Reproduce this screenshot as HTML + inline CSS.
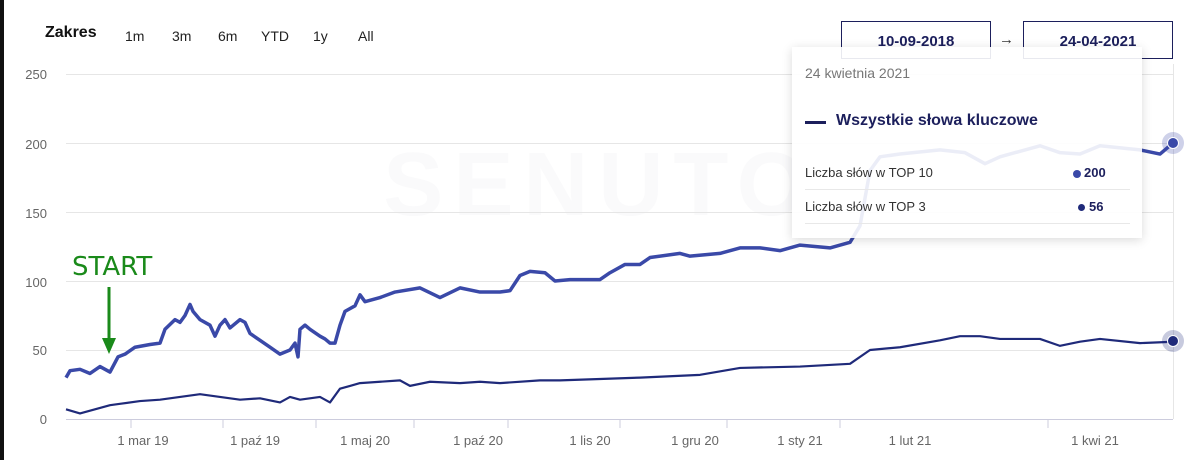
<!DOCTYPE html>
<html><head><meta charset="utf-8"><style>
body{margin:0;width:1201px;height:460px;background:#fff;overflow:hidden;font-family:"Liberation Sans",sans-serif;position:relative}
.t{position:absolute;white-space:nowrap}
</style></head><body>
<div style="position:absolute;left:0;top:0;width:4px;height:460px;background:#111"></div>
<svg width="1201" height="460" style="position:absolute;left:0;top:0">
<text x="600" y="215" font-size="90" font-weight="bold" fill="#fafafb" text-anchor="middle" letter-spacing="10">SENUTO</text>
<g stroke="#e6e6e6" stroke-width="1">
<line x1="66" x2="1173" y1="74.5" y2="74.5"/><line x1="66" x2="1173" y1="143.5" y2="143.5"/>
<line x1="66" x2="1173" y1="212.5" y2="212.5"/><line x1="66" x2="1173" y1="281.5" y2="281.5"/>
<line x1="66" x2="1173" y1="350.5" y2="350.5"/>
<line x1="1173.5" x2="1173.5" y1="64" y2="419"/>
</g>
<line x1="66" x2="1173" y1="419.5" y2="419.5" stroke="#ccd" />
<g stroke="#ccd"><line x1="131" x2="131" y1="420" y2="428"/><line x1="223" x2="223" y1="420" y2="428"/><line x1="316" x2="316" y1="420" y2="428"/><line x1="414" x2="414" y1="420" y2="428"/><line x1="508" x2="508" y1="420" y2="428"/><line x1="620" x2="620" y1="420" y2="428"/><line x1="727" x2="727" y1="420" y2="428"/><line x1="840" x2="840" y1="420" y2="428"/><line x1="1048" x2="1048" y1="420" y2="428"/></g>
<g font-size="13" fill="#666" text-anchor="end"><text x="47" y="79">250</text><text x="47" y="149">200</text><text x="47" y="218">150</text><text x="47" y="287">100</text><text x="47" y="355">50</text><text x="47" y="424">0</text></g>
<g font-size="13" fill="#666" text-anchor="middle"><text x="143" y="445">1 mar 19</text><text x="255" y="445">1 paź 19</text><text x="365" y="445">1 maj 20</text><text x="478" y="445">1 paź 20</text><text x="590" y="445">1 lis 20</text><text x="695" y="445">1 gru 20</text><text x="800" y="445">1 sty 21</text><text x="910" y="445">1 lut 21</text><text x="1095" y="445">1 kwi 21</text></g>
<g transform="translate(0,419) scale(1,-1.38)" fill="none" stroke-linejoin="round">
<polyline vector-effect="non-scaling-stroke" stroke="#3a49a8" stroke-width="3.5" points="66,30 70,35 80,36 90,33 100,38 105,36 110,34 118,45 125,47 135,52 150,54 160,55 165,65 175,72 180,70 185,75 190,83 193,78 200,72 210,68 215,60 220,68 225,72 230,66 240,72 245,70 250,62 260,57 270,52 280,47 290,50 295,55 298,45 300,65 305,68 310,65 320,60 325,58 330,55 335,55 340,68 345,78 355,82 360,90 365,85 380,88 395,92 420,95 440,88 460,95 480,92 500,92 510,93 520,104 530,107 545,106 555,100 570,101 600,101 610,106 625,112 640,112 650,117 680,120 690,118 720,120 740,124 760,124 780,122 800,126 830,124 850,128 860,140 870,180 880,190 900,192 940,195 965,193 985,185 1000,190 1040,198 1060,193 1080,192 1100,198 1140,195 1160,192 1173,200"/>
<polyline vector-effect="non-scaling-stroke" stroke="#1f2a7a" stroke-width="2.2" points="66,7 80,4 100,8 110,10 120,11 140,13 160,14 180,16 200,18 220,16 240,14 260,15 280,12 290,16 300,14 310,15 320,16 330,12 340,22 350,24 360,26 380,27 400,28 410,24 430,27 460,26 480,27 500,26 540,28 560,28 600,29 640,30 700,32 740,37 800,38 850,40 870,50 900,52 940,57 960,60 980,60 1000,58 1040,58 1060,53 1080,56 1100,58 1140,55 1173,56"/>
</g>
<circle cx="1173" cy="143" r="11" fill="#3a49a8" opacity="0.25"/><circle cx="1173" cy="143" r="5.5" fill="#3a49a8" stroke="#fff" stroke-width="1"/>
<circle cx="1173" cy="341" r="11" fill="#1f2a7a" opacity="0.25"/><circle cx="1173" cy="341" r="5.5" fill="#1f2a7a" stroke="#fff" stroke-width="1"/>
<text x="72" y="275" font-size="26" fill="#1a8a1a" font-family="DejaVu Sans, sans-serif">START</text>
<line x1="109" y1="287" x2="109" y2="340" stroke="#1a8a1a" stroke-width="3"/>
<polygon points="102,338 116,338 109,354" fill="#1a8a1a"/>
</svg>
<div class="t" style="left:45px;top:24px;font-size:16px;font-weight:bold;color:#111">Zakres</div>
<div class="t" style="left:125px;top:28px;font-size:14px;color:#222">1m</div>
<div class="t" style="left:172px;top:28px;font-size:14px;color:#222">3m</div>
<div class="t" style="left:218px;top:28px;font-size:14px;color:#222">6m</div>
<div class="t" style="left:261px;top:28px;font-size:14px;color:#222">YTD</div>
<div class="t" style="left:313px;top:28px;font-size:14px;color:#222">1y</div>
<div class="t" style="left:358px;top:28px;font-size:14px;color:#222">All</div>
<div style="position:absolute;left:841px;top:21px;width:148px;height:36px;border:1px solid #1c1f5c;font-size:15px;font-weight:bold;color:#1c1f5c;text-align:center;line-height:40px">10-09-2018</div>
<div class="t" style="left:999px;top:31px;font-size:15px;color:#333">→</div>
<div style="position:absolute;left:1023px;top:21px;width:148px;height:36px;border:1px solid #1c1f5c;font-size:15px;font-weight:bold;color:#1c1f5c;text-align:center;line-height:40px">24-04-2021</div>
<div style="position:absolute;left:792px;top:47px;width:350px;height:191px;background:rgba(255,255,255,0.9);box-shadow:0 2px 10px rgba(0,0,0,0.15)">
<div class="t" style="left:13px;top:18px;font-size:14px;color:#777">24 kwietnia 2021</div>
<div style="position:absolute;left:13px;top:74px;width:21px;height:3px;background:#1c1f5c"></div>
<div class="t" style="left:44px;top:65px;font-size:16px;font-weight:bold;color:#1c1f5c">Wszystkie słowa kluczowe</div>
<div class="t" style="left:13px;top:118px;font-size:13px;color:#333">Liczba słów w TOP 10</div>
<div style="position:absolute;left:281px;top:123px;width:8px;height:8px;border-radius:50%;background:#3a49a8"></div>
<div class="t" style="left:292px;top:118px;font-size:13px;font-weight:bold;color:#1c1f5c">200</div>
<div style="position:absolute;left:13px;top:142px;width:325px;height:1px;background:#e8e8e8"></div>
<div class="t" style="left:13px;top:152px;font-size:13px;color:#333">Liczba słów w TOP 3</div>
<div style="position:absolute;left:286px;top:157px;width:7px;height:7px;border-radius:50%;background:#1f2a7a"></div>
<div class="t" style="left:297px;top:152px;font-size:13px;font-weight:bold;color:#1c1f5c">56</div>
<div style="position:absolute;left:13px;top:176px;width:325px;height:1px;background:#e8e8e8"></div>
</div>
</body></html>
